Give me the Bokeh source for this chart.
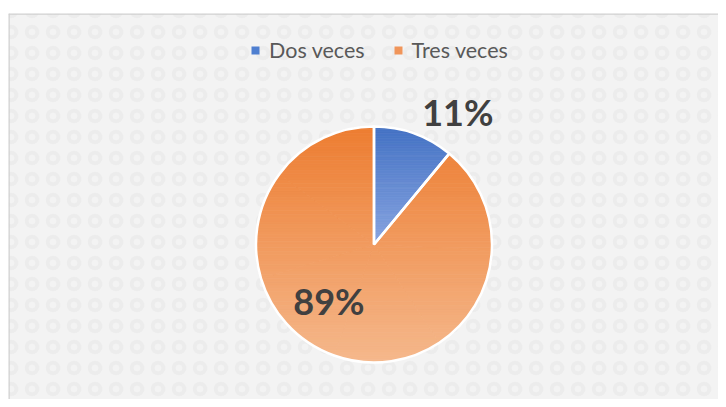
import numpy as np
from bokeh.plotting import figure
from bokeh.models import Range1d, Legend, LegendItem, Span
from bokeh.core.properties import value
from bokeh.embed import file_html
from bokeh.resources import INLINE

# ---- data ----
categories = ["Dos veces", "Tres veces"]
shares = [11, 89]
labels = ["11%", "89%"]

# ---- style ----
top_colors = ["#4472C4", "#ED7D31"]
bottom_colors = ["#88A4E0", "#F5B88C"]
legend_colors = ["#4F7FD0", "#F0955A"]
label_angle_deg = [57.7, -128.8]
label_r_factor = [1.33, 0.61]

W, H = 718, 399
X0, Y0 = 8, 13          # frame offset inside the figure
p = figure(width=W, height=H, output_backend="svg", toolbar_location=None,
           x_range=Range1d(X0, W), y_range=Range1d(0, H - Y0),
           x_axis_location=None, y_axis_location=None,
           min_border_left=X0, min_border_right=0, min_border_top=Y0, min_border_bottom=0)
p.grid.visible = False
p.outline_line_color = None
p.border_fill_color = "white"
p.background_fill_color = "#f2f2f2"

# textured background
p.quad(left=[X0], right=[W], bottom=[0], top=[H - Y0], fill_color="#f3f3f3", line_color=None,
       hatch_pattern="ring", hatch_color="#e4e4e4", hatch_scale=21, hatch_weight=4, hatch_alpha=0.45)
p.add_layout(Span(location=X0 + 0.5, dimension="height", line_color="#d0d0d0", line_width=1.5))
p.add_layout(Span(location=H - Y0 - 0.5, dimension="width", line_color="#d0d0d0", line_width=1.5))

cx, cy, R = 373.5, H - 244, 118

fractions = np.array(shares, dtype=float) / sum(shares)
cum = np.concatenate([[0.0], np.cumsum(fractions)])
starts = np.pi / 2 - 2 * np.pi * cum[:-1]
ends = np.pi / 2 - 2 * np.pi * cum[1:]


def hex_to_rgb(h):
    h = h.lstrip("#")
    return np.array([int(h[i:i + 2], 16) for i in (0, 2, 4)], dtype=float)


def mix(c1, c2, t):
    c = hex_to_rgb(c1) * (1 - t) + hex_to_rgb(c2) * t
    return "#%02x%02x%02x" % tuple(int(round(v)) for v in c)


def clip(pts, yc, keep_ge):
    out = []
    n = len(pts)
    for k in range(n):
        P = pts[k]
        Q = pts[(k + 1) % n]
        inP = P[1] >= yc if keep_ge else P[1] <= yc
        inQ = Q[1] >= yc if keep_ge else Q[1] <= yc
        if inP:
            out.append(P)
        if inP != inQ:
            t = (yc - P[1]) / (Q[1] - P[1])
            out.append((P[0] + t * (Q[0] - P[0]), yc))
    return out


xs_all, ys_all, cols_all = [], [], []
nstr = 70
for i in range(len(shares)):
    # bounding box of the whole slice (for its gradient)
    theta_all = np.linspace(starts[i], ends[i], 400)
    yv = np.concatenate([[cy], cy + R * np.sin(theta_all)])
    ymin, ymax = yv.min(), yv.max()
    edges = np.linspace(ymin, ymax, nstr + 1)
    # split the slice into convex sub-sectors of at most 60 degrees
    nsub = int(np.ceil(abs(ends[i] - starts[i]) / np.radians(60)))
    bounds = np.linspace(starts[i], ends[i], nsub + 1)
    for s in range(nsub):
        theta = np.linspace(bounds[s], bounds[s + 1], 80)
        poly = [(cx, cy)] + [(cx + R * np.cos(t), cy + R * np.sin(t)) for t in theta]
        for k in range(nstr):
            e0, e1 = edges[k], edges[k + 1]
            pc = clip(poly, e0, True)
            if len(pc) < 3:
                continue
            pc = clip(pc, e1, False)
            if len(pc) < 3:
                continue
            mid = 0.5 * (e0 + e1)
            t = (ymax - mid) / (ymax - ymin)
            xs_all.append([q[0] for q in pc])
            ys_all.append([q[1] for q in pc])
            cols_all.append(mix(top_colors[i], bottom_colors[i], t))

p.patches(xs_all, ys_all, fill_color=cols_all, line_color=cols_all, line_width=0.8)

p.wedge(x=cx, y=cy, radius=R, start_angle=starts, end_angle=ends, direction="clock",
        fill_alpha=0, line_color="white", line_width=2.5)

# labels
lx = [cx + R * f * np.cos(np.radians(a)) for a, f in zip(label_angle_deg, label_r_factor)]
ly = [cy + R * f * np.sin(np.radians(a)) for a, f in zip(label_angle_deg, label_r_factor)]
p.text(x=lx, y=ly, text=labels, text_font=value("Lato"), text_font_style="bold",
       text_font_size="36px", text_color="#404040", text_align="center", text_baseline="middle")

# legend (square swatches)
items = []
for cat, col in zip(categories, legend_colors):
    r = p.quad(left=[-1000], right=[-999], bottom=[-1000], top=[-999],
               fill_color=col, line_color=None)
    items.append(LegendItem(label=cat, renderers=[r]))
legend = Legend(items=items, orientation="horizontal", location=(242, 336),
                label_text_font="Lato", label_text_font_size="21.5px", label_text_color="#595959",
                glyph_width=10, glyph_height=10, spacing=28, label_standoff=9, label_height=20,
                background_fill_alpha=0, border_line_color=None, margin=0, padding=0)
p.add_layout(legend)

open("out.html", "w").write(file_html(p, INLINE))
